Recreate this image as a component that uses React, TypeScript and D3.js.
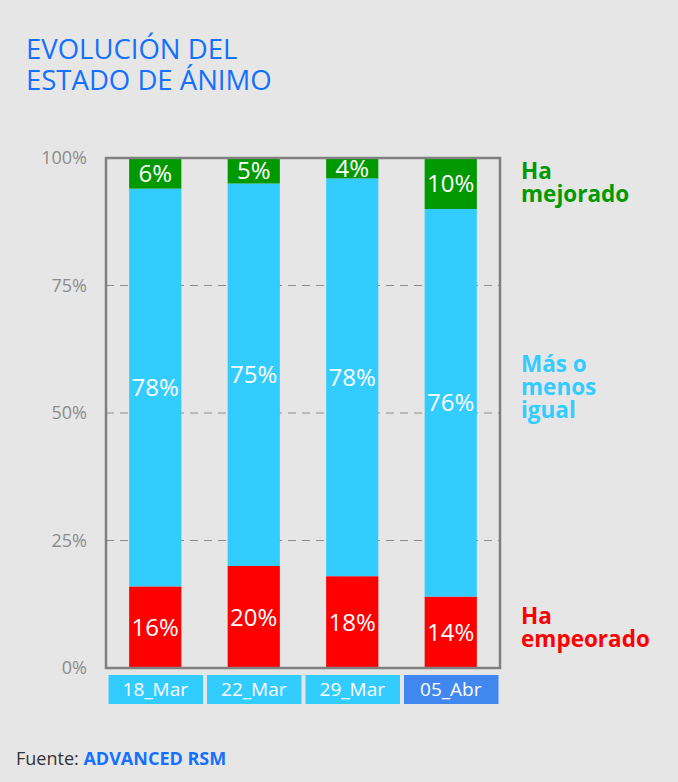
import React from "react";
import * as d3 from "d3";

const categories = ["18_Mar", "22_Mar", "29_Mar", "05_Abr"];
const empeorado = [16, 20, 18, 14];
const igual = [78, 75, 78, 76];
const mejorado = [6, 5, 4, 10];
const yTicks = [0, 25, 50, 75, 100];
const seriesNames = ["Ha empeorado", "Más o menos igual", "Ha mejorado"];

const W = 678;
const H = 782;
const FONT = "'Open Sans', 'Noto Sans', sans-serif";

const COLORS: Record<string, string> = {
  "Ha empeorado": "#FF0000",
  "Más o menos igual": "#33CCFF",
  "Ha mejorado": "#009900",
};

export default function App() {
  const rows = categories.map((c, i) => ({
    cat: c,
    "Ha empeorado": empeorado[i],
    "Más o menos igual": igual[i],
    "Ha mejorado": mejorado[i],
  }));
  const stack = d3.stack<any>().keys(seriesNames)(rows);

  const x = d3
    .scaleBand<string>()
    .domain(categories)
    .range([106, 500])
    .paddingInner(0.47)
    .paddingOuter(0.235);
  const xBox = d3.scaleBand<string>().domain(categories).range([106, 500]).padding(0);
  const y = d3.scaleLinear().domain([0, 100]).range([668, 158]);

  const legend = [
    { key: "Ha mejorado", lines: ["Ha", "mejorado"], y0: 179 },
    { key: "Más o menos igual", lines: ["Más o", "menos", "igual"], y0: 372 },
    { key: "Ha empeorado", lines: ["Ha", "empeorado"], y0: 624 },
  ];

  return (
    <div style={{ position: "fixed", left: 0, top: 0, width: W, height: H, background: "#E6E6E6" }}>
      <svg width={W} height={H} style={{ display: "block" }}>
        <rect x={0} y={0} width={W} height={H} fill="#E6E6E6" />
        {/* Title */}
        <text x={26} y={59} fill="#1470FF" fontFamily={FONT} fontSize={27.5}>
          EVOLUCIÓN DEL
        </text>
        <text x={26} y={90} fill="#1470FF" fontFamily={FONT} fontSize={27.5}>
          ESTADO DE ÁNIMO
        </text>

        {/* gridlines */}
        {yTicks
          .filter((t) => t > 0 && t < 100)
          .map((t) => (
            <line
              key={t}
              x1={106}
              x2={500}
              y1={y(t)}
              y2={y(t)}
              stroke="#8C8C8C"
              strokeWidth={1}
              strokeDasharray="8,6"
            />
          ))}
        {/* y tick labels */}
        {yTicks.map((t) => (
          <text
            key={t}
            x={87}
            y={y(t)}
            dy="0.35em"
            textAnchor="end"
            fill="#8C8C8C"
            fontFamily={FONT}
            fontSize={18}
          >
            {t}%
          </text>
        ))}

        {/* bars */}
        {stack.map((s) =>
          s.map((d, i) => (
            <rect
              key={s.key + i}
              x={x(categories[i])}
              width={x.bandwidth()}
              y={y(d[1])}
              height={y(d[0]) - y(d[1])}
              fill={COLORS[s.key]}
            />
          ))
        )}
        {/* bar labels */}
        {stack.map((s) =>
          s.map((d, i) => (
            <text
              key={"l" + s.key + i}
              x={(x(categories[i]) as number) + x.bandwidth() / 2}
              y={(y(d[0]) + y(d[1])) / 2}
              dy="0.36em"
              textAnchor="middle"
              fill="#FFFFFF"
              fontFamily={FONT}
              fontSize={24}
            >
              {d[1] - d[0]}%
            </text>
          ))
        )}

        {/* frame */}
        <rect x={106} y={158} width={394} height={510} fill="none" stroke="#808080" strokeWidth={2.5} />

        {/* x label boxes */}
        {categories.map((c, i) => (
          <g key={c}>
            <rect
              x={(xBox(c) as number) + 2.5}
              y={675}
              width={xBox.bandwidth() - 4}
              height={29}
              fill={i === categories.length - 1 ? "#4088F0" : "#33CCFF"}
            />
            <text
              x={(xBox(c) as number) + xBox.bandwidth() / 2}
              y={689.5}
              dy="0.36em"
              textAnchor="middle"
              fill="#FFFFFF"
              fontFamily={FONT}
              fontSize={19}
            >
              {c}
            </text>
          </g>
        ))}

        {/* legend */}
        {legend.map((l) =>
          l.lines.map((ln, j) => (
            <text
              key={l.key + j}
              x={521}
              y={l.y0 + j * 23}
              fill={COLORS[l.key]}
              fontFamily={FONT}
              fontWeight="bold"
              fontSize={22.5}
            >
              {ln}
            </text>
          ))
        )}

        {/* footer */}
        <text x={16} y={765} fontFamily={FONT} fontSize={18} fill="#333333">
          Fuente:{" "}
          <tspan fill="#1470FF" fontWeight="bold">
            ADVANCED RSM
          </tspan>
        </text>
      </svg>
    </div>
  );
}
